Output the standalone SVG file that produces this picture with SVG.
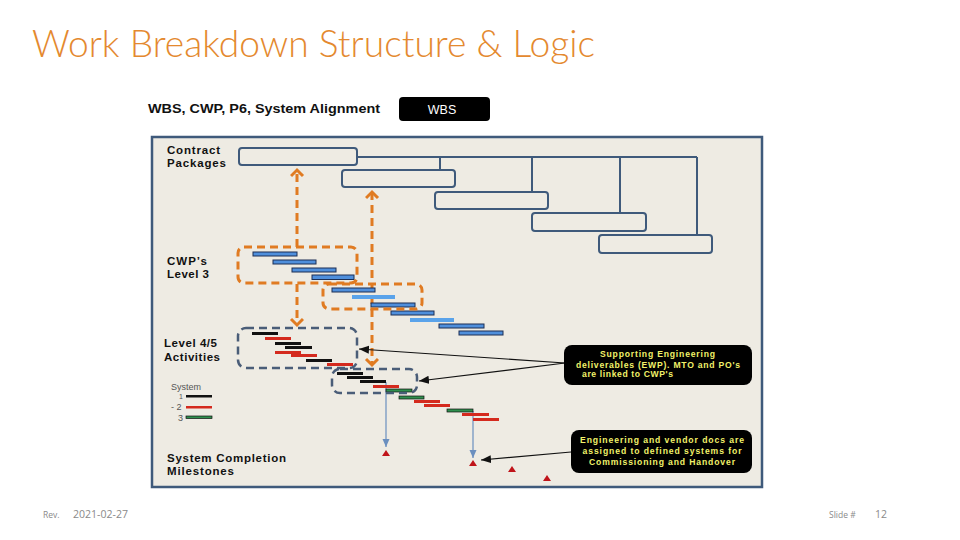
<svg xmlns="http://www.w3.org/2000/svg" width="960" height="540" viewBox="0 0 960 540">
<style>
.lbl{font-family:"Liberation Sans",Arial,sans-serif;font-weight:bold;fill:#111;}
.cp{fill:#eeebe3;stroke:#3f5a7b;stroke-width:2;}
.tree{fill:none;stroke:#3f5a7b;stroke-width:2;}
.odash{fill:none;stroke:#e07b22;stroke-width:3;stroke-dasharray:8,5;}
.sdash{fill:none;stroke:#4a5d78;stroke-width:2.5;stroke-dasharray:8,5;}
.bb{fill:#4f8fdc;stroke:#1c2f55;stroke-width:1;}
.bl{fill:#5aa3ea;}
.k{fill:#111;}
.r{fill:#d42a1e;}
.g{fill:#2f8f4e;stroke:#111;stroke-width:0.7;}
.blk{fill:none;stroke:#111;stroke-width:1.2;}
.bln{fill:none;stroke:#6a8fbf;stroke-width:1.2;}
.tri{fill:#c0141a;}
.call{fill:#000;}
.ct{font-family:"Liberation Sans",Arial,sans-serif;font-weight:bold;font-size:8.6px;fill:#f2f26a;}
.ft{font-family:"Open Sans","Liberation Sans",sans-serif;fill:#8a8a8a;}
</style>
<defs>
<marker id="och" markerUnits="userSpaceOnUse" markerWidth="14" markerHeight="16" refX="8" refY="7" orient="auto-start-reverse">
<path d="M2,1 L8,7 L2,13" fill="none" stroke="#e07b22" stroke-width="3" stroke-dasharray="none"/>
</marker>
<marker id="kar" markerUnits="userSpaceOnUse" markerWidth="12" markerHeight="10" refX="10" refY="4" orient="auto">
<path d="M0,0 L10,4 L0,8 z" fill="#111"/>
</marker>
<marker id="bar" markerUnits="userSpaceOnUse" markerWidth="10" markerHeight="10" refX="8" refY="3.5" orient="auto">
<path d="M0,0 L8,3.5 L0,7 z" fill="#6a8fbf"/>
</marker>
</defs>
<rect width="960" height="540" fill="#fff"/>

<g id="title">
<text x="32" y="57" font-family="Lato,'Open Sans',sans-serif" font-weight="300" font-size="38" fill="#e4892f" textLength="563" lengthAdjust="spacingAndGlyphs">Work Breakdown Structure &amp; Logic</text>
</g>

<g id="header">
<text class="lbl" x="148" y="113" font-size="13" textLength="232" lengthAdjust="spacingAndGlyphs">WBS, CWP, P6, System Alignment</text>
</g>
<g id="wbs">
<rect x="399" y="97" width="91" height="24" rx="4" fill="#000"/>
<text x="442" y="114" font-family="'Liberation Sans',Arial,sans-serif" font-size="12.5" fill="#fff" text-anchor="middle">WBS</text>
</g>

<g id="panel">
<rect x="152" y="137" width="610" height="350" fill="#eeebe3" stroke="#3f5a7b" stroke-width="2.5"/>
</g>

<g id="labels">
<text class="lbl" x="167" y="154" font-size="11.5" textLength="53" lengthAdjust="spacing">Contract</text>
<text class="lbl" x="167" y="167" font-size="11.5" textLength="59" lengthAdjust="spacing">Packages</text>
<text class="lbl" x="167" y="265" font-size="11.5" textLength="40" lengthAdjust="spacing">CWP’s</text>
<text class="lbl" x="167" y="278" font-size="11.5" textLength="42" lengthAdjust="spacing">Level 3</text>
<text class="lbl" x="164" y="347" font-size="11.5" textLength="53" lengthAdjust="spacing">Level 4/5</text>
<text class="lbl" x="164" y="361" font-size="11.5" textLength="56" lengthAdjust="spacing">Activities</text>
<text class="lbl" x="167" y="462" font-size="11.5" textLength="119" lengthAdjust="spacing">System Completion</text>
<text class="lbl" x="167" y="475" font-size="11.5" textLength="67" lengthAdjust="spacing">Milestones</text>
</g>

<g id="connectors">
<path class="tree" d="M357,157 H697 M440,157 V170 M532,157 V192 M620,157 V213 M697,157 V235"/>
<path class="odash" d="M297,247 V170" marker-end="url(#och)"/>
<path class="odash" d="M297,284 V325" marker-end="url(#och)"/>
<path class="odash" d="M372,192 V365" marker-start="url(#och)" marker-end="url(#och)"/>
<path class="blk" d="M565,363 L359,349" marker-end="url(#kar)"/>
<path class="blk" d="M565,363 L419,381" marker-end="url(#kar)"/>
<path class="blk" d="M571,452 L481,460" marker-end="url(#kar)"/>
<path class="bln" d="M386,382 V447" marker-end="url(#bar)"/>
<path class="bln" d="M473,411 V458" marker-end="url(#bar)"/>
</g>

<g id="contract-packages">
<rect class="cp" x="239" y="148" width="118" height="17" rx="3"/>
<rect class="cp" x="342" y="170" width="113" height="17" rx="3"/>
<rect class="cp" x="435" y="192" width="113" height="17" rx="3"/>
<rect class="cp" x="532" y="213" width="114" height="18" rx="3"/>
<rect class="cp" x="599" y="235" width="113" height="18" rx="3"/>
</g>

<g id="cwp-bars">
<rect class="bb" x="253" y="252" width="44" height="4"/>
<rect class="bb" x="273" y="260" width="43" height="4"/>
<rect class="bb" x="292" y="268" width="44" height="4"/>
<rect class="bb" x="312" y="275" width="42" height="4.5"/>
<rect class="bb" x="332" y="288" width="43" height="4"/>
<rect class="bl" x="352" y="295" width="43" height="4"/>
<rect class="bb" x="371" y="303" width="44" height="4"/>
<rect class="bb" x="391" y="311" width="43" height="4"/>
<rect class="bl" x="410" y="318" width="44" height="4"/>
<rect class="bb" x="439" y="324" width="45" height="4"/>
<rect class="bb" x="459" y="331" width="44" height="4"/>
</g>

<g id="cwp-boxes">
<rect class="odash" x="238" y="247" width="119" height="36" rx="6"/>
<rect class="odash" x="323" y="284" width="99" height="25" rx="6"/>
</g>

<g id="activity-bars">
<rect class="k" x="252" y="332" width="26" height="3"/>
<rect class="r" x="265" y="337" width="26" height="3"/>
<rect class="k" x="275" y="342" width="26" height="3"/>
<rect class="k" x="285" y="346" width="27" height="3"/>
<rect class="r" x="275" y="351" width="26" height="3"/>
<rect class="r" x="291" y="354" width="26" height="3"/>
<rect class="k" x="306" y="359" width="26" height="3"/>
<rect class="r" x="327" y="363" width="26" height="3"/>
<rect class="k" x="337" y="372" width="26" height="3"/>
<rect class="k" x="347" y="376" width="26" height="3"/>
<rect class="k" x="360" y="380" width="26" height="3"/>
<rect class="r" x="373" y="385" width="26" height="3"/>
<rect class="g" x="386" y="389" width="26" height="3"/>
<rect class="g" x="399" y="396" width="25" height="3"/>
<rect class="r" x="414" y="400" width="26" height="3"/>
<rect class="r" x="424" y="404" width="26" height="3"/>
<rect class="g" x="447" y="409" width="26" height="3"/>
<rect class="r" x="462" y="413" width="27" height="3"/>
<rect class="r" x="473" y="418" width="26" height="3"/>
</g>

<g id="activity-boxes">
<rect class="sdash" x="238" y="328" width="119" height="40" rx="8"/>
<rect class="sdash" x="332" y="369" width="85" height="24" rx="8"/>
</g>

<g id="legend">
<text x="171" y="390" font-family="'Liberation Sans',Arial,sans-serif" font-size="9" fill="#555">System</text>
<text x="179" y="399" font-family="'Liberation Sans',Arial,sans-serif" font-size="7" fill="#555">1</text>
<rect class="k" x="186" y="395" width="26" height="2.5"/>
<text x="171" y="410" font-family="'Liberation Sans',Arial,sans-serif" font-size="9" fill="#555">- 2</text>
<rect class="r" x="186" y="406" width="26" height="2.5"/>
<text x="178" y="421" font-family="'Liberation Sans',Arial,sans-serif" font-size="9" fill="#555">3</text>
<rect class="g" x="186" y="416" width="26" height="2.5"/>
</g>

<g id="milestones">
<path class="tri" d="M382,456 L386,450 L390,456 z"/>
<path class="tri" d="M469,466 L473,460 L477,466 z"/>
<path class="tri" d="M508,472 L512,466 L516,472 z"/>
<path class="tri" d="M543,481 L547,475 L551,481 z"/>
</g>

<g id="callout-ewp">
<rect class="call" x="564" y="345" width="188" height="40" rx="8"/>
<text class="ct" x="600" y="357" textLength="115" lengthAdjust="spacing">Supporting Engineering</text>
<text class="ct" x="576" y="368" textLength="164" lengthAdjust="spacing">deliverables (EWP). MTO and PO's</text>
<text class="ct" x="582" y="377" textLength="91" lengthAdjust="spacing">are linked  to CWP's</text>
</g>

<g id="callout-docs">
<rect class="call" x="571" y="430" width="181" height="43" rx="8"/>
<text class="ct" x="662" y="443" text-anchor="middle" textLength="164" lengthAdjust="spacing">Engineering and vendor docs are</text>
<text class="ct" x="662" y="454" text-anchor="middle" textLength="159" lengthAdjust="spacing">assigned to defined systems for</text>
<text class="ct" x="662" y="465" text-anchor="middle" textLength="146" lengthAdjust="spacing">Commissioning and Handover</text>
</g>

<g id="footer">
<text class="ft" x="43" y="518" font-size="8.5">Rev.</text>
<text class="ft" x="73" y="518" font-size="10.5" textLength="55" lengthAdjust="spacingAndGlyphs">2021-02-27</text>
<text class="ft" x="829" y="518" font-size="8.5">Slide #</text>
<text class="ft" x="875" y="518" font-size="10.5">12</text>
</g>
</svg>
